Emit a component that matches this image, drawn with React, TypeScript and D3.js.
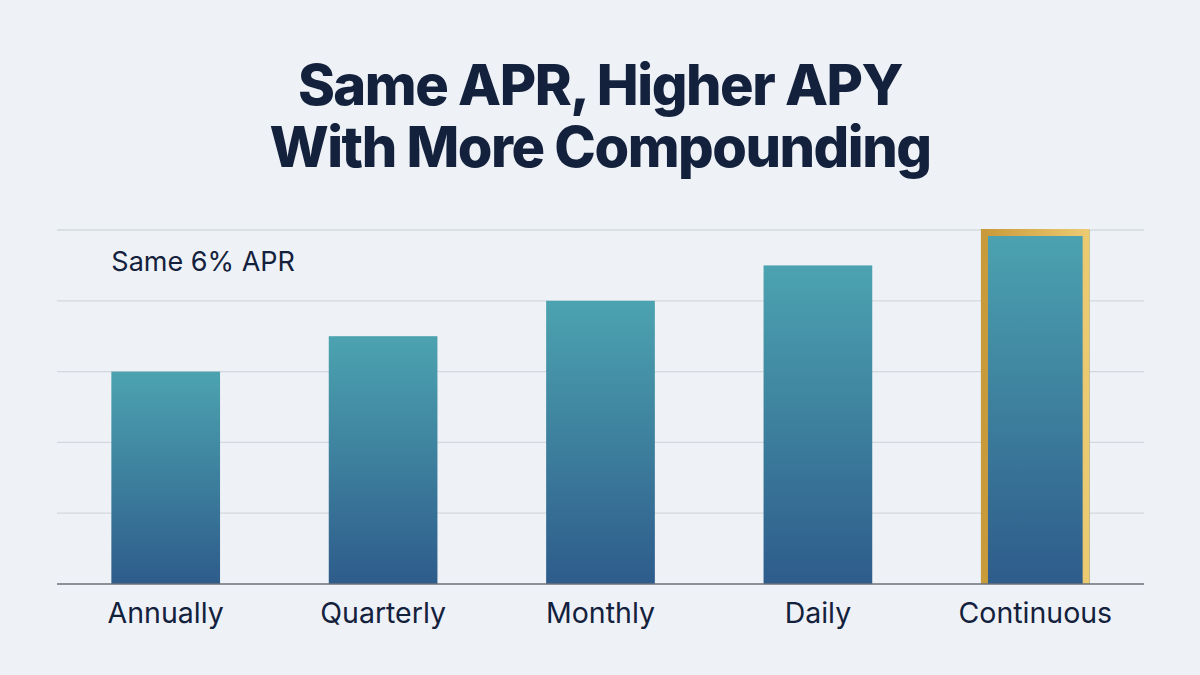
import { useEffect, useRef } from "react";
import * as d3 from "d3";

const categories = ["Annually", "Quarterly", "Monthly", "Daily", "Continuous"];
// relative APY level, read in gridline units
const apyLevels = [3, 3.5, 4, 4.5, 5];
const highlighted = "Continuous";
const gridTicks = [1, 2, 3, 4, 5];
const titleLines = ["Same APR, Higher APY", "With More Compounding"];
const noteText = "Same 6% APR";

export default function App() {
  const ref = useRef<SVGSVGElement>(null);

  useEffect(() => {
    const width = 1200;
    const height = 675;
    const margin = { top: 230, right: 56, bottom: 91, left: 57 };

    const svg = d3.select(ref.current);
    svg.selectAll("*").remove();

    const defs = svg.append("defs");
    const barGrad = defs
      .append("linearGradient")
      .attr("id", "barGrad")
      .attr("x1", 0)
      .attr("y1", 0)
      .attr("x2", 0)
      .attr("y2", 1);
    barGrad.append("stop").attr("offset", "0%").attr("stop-color", "#4ca3b0");
    barGrad.append("stop").attr("offset", "100%").attr("stop-color", "#2e5c8b");

    const goldGrad = defs
      .append("linearGradient")
      .attr("id", "goldGrad")
      .attr("gradientUnits", "userSpaceOnUse");
    goldGrad.append("stop").attr("offset", "0%").attr("stop-color", "#c99a3a");
    goldGrad.append("stop").attr("offset", "100%").attr("stop-color", "#ecca72");

    svg
      .append("rect")
      .attr("width", width)
      .attr("height", height)
      .attr("fill", "#eef2f6");

    // Title, one text with two lines
    svg
      .append("text")
      .attr("text-anchor", "middle")
      .attr("font-family", "Inter, sans-serif")
      .attr("font-weight", 800)
      .attr("font-size", 56)
      .attr("letter-spacing", -1.5)
      .attr("fill", "#14213d")
      .selectAll("tspan")
      .data(titleLines)
      .join("tspan")
      .attr("x", width / 2)
      .attr("y", (_, i) => 105 + i * 62)
      .text((d) => d);

    const x = d3
      .scaleBand<string>()
      .domain(categories)
      .range([margin.left, width - margin.right])
      .paddingInner(0.5)
      .paddingOuter(0.25);

    const y = d3
      .scaleLinear()
      .domain([0, 5])
      .range([height - margin.bottom, margin.top]);

    // gridlines
    svg
      .append("g")
      .selectAll("line")
      .data(gridTicks)
      .join("line")
      .attr("x1", margin.left)
      .attr("x2", width - margin.right)
      .attr("y1", (d) => y(d))
      .attr("y2", (d) => y(d))
      .attr("stroke", "#d3d8de")
      .attr("stroke-width", 1.3);

    // bars
    const data = categories.map((c, i) => ({ cat: c, v: apyLevels[i] }));
    svg
      .append("g")
      .selectAll("rect")
      .data(data)
      .join("rect")
      .attr("x", (d) => x(d.cat) as number)
      .attr("y", (d) => y(d.v))
      .attr("width", x.bandwidth())
      .attr("height", (d) => y(0) - y(d.v))
      .attr("fill", "url(#barGrad)");

    // gold highlight frame (left, top, right sides)
    const hv = apyLevels[categories.indexOf(highlighted)];
    const sw = 7;
    const x0 = (x(highlighted) as number) + sw / 2;
    const x1 = (x(highlighted) as number) + x.bandwidth() - sw / 2;
    const yTop = y(hv) + sw / 2 - 1;
    goldGrad.attr("x1", x0).attr("x2", x1).attr("y1", 0).attr("y2", 0);
    svg
      .append("path")
      .attr("d", `M${x0},${y(0)} L${x0},${yTop} L${x1},${yTop} L${x1},${y(0)}`)
      .attr("fill", "none")
      .attr("stroke", "url(#goldGrad)")
      .attr("stroke-width", sw);

    // baseline
    svg
      .append("line")
      .attr("x1", margin.left)
      .attr("x2", width - margin.right)
      .attr("y1", y(0))
      .attr("y2", y(0))
      .attr("stroke", "#6b7078")
      .attr("stroke-width", 1.6);

    // category labels
    svg
      .append("g")
      .selectAll("text")
      .data(categories)
      .join("text")
      .attr("x", (d) => (x(d) as number) + x.bandwidth() / 2)
      .attr("y", 623)
      .attr("text-anchor", "middle")
      .attr("font-family", "Inter, sans-serif")
      .attr("font-size", 28.5)
      .attr("fill", "#14213d")
      .text((d) => d);

    // note
    svg
      .append("text")
      .attr("x", x(categories[0]) as number)
      .attr("y", 271)
      .attr("font-family", "Inter, sans-serif")
      .attr("font-size", 27)
      .attr("fill", "#14213d")
      .text(noteText);
  }, []);

  return (
    <svg
      ref={ref}
      width={1200}
      height={675}
      style={{ position: "absolute", left: 0, top: 0, display: "block" }}
    />
  );
}
